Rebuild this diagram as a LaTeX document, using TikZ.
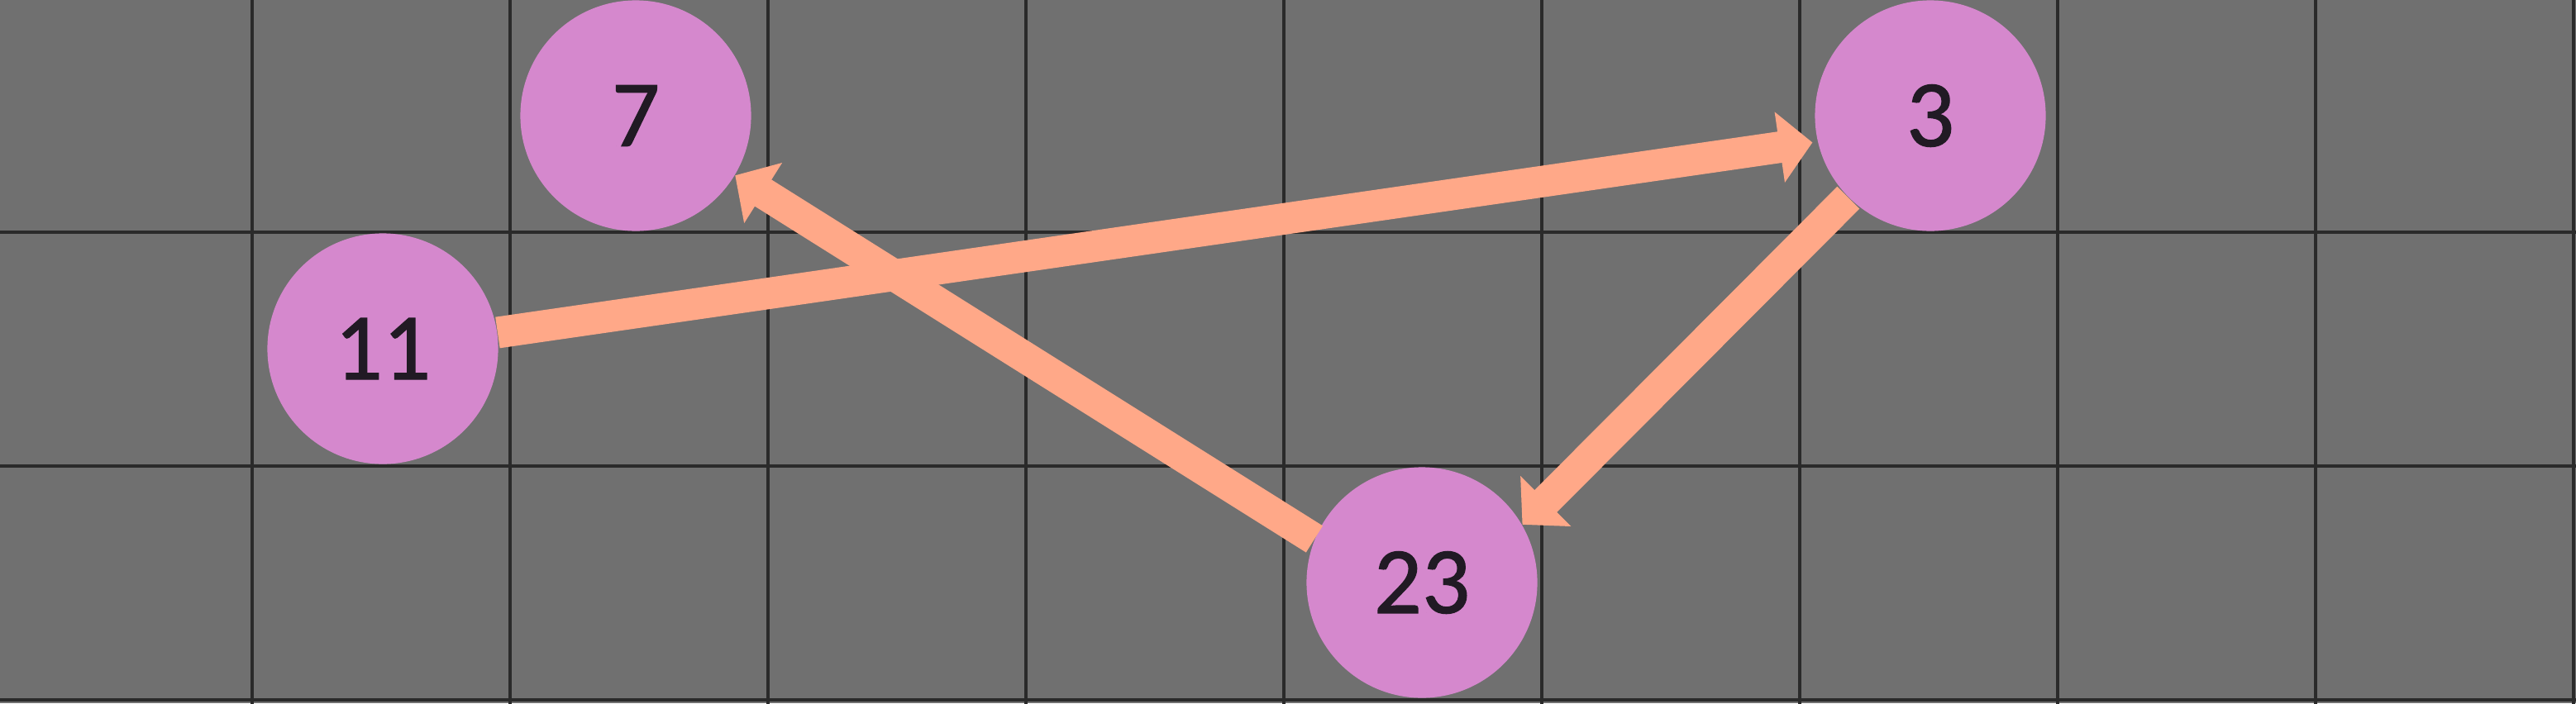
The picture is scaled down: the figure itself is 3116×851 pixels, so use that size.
\documentclass[tikz,border=0pt]{standalone}
\usepackage{fontspec}
\setmainfont{Carlito}[Numbers={Tabular,Lining}]
\newfontfamily\balldigits{Carlito}[Numbers={Tabular,Lining},FakeBold=1]
\usepackage{xcolor}
\usetikzlibrary{arrows.meta}

\definecolor{boardgray}{HTML}{707070}
\definecolor{gridink}{HTML}{2A2A2A}
\definecolor{ballpink}{HTML}{D588CD}
\definecolor{linkpeach}{HTML}{FFA888}
\definecolor{digitink}{HTML}{211A24}

\begin{document}
\begin{tikzpicture}[x=0.01cm,y=-0.01cm,
  gridline/.style={draw=gridink,line width=0.045cm},
  ball/.style={circle,fill=ballpink,minimum size=2.79cm,inner sep=0pt,
    text=digitink,font=\balldigits\fontsize{32.7}{39}\selectfont},
  link/.style={draw=linkpeach,line width=0.38cm,
    -{Triangle[length=0.4cm,width=0.84cm]}}]

% Board
\fill[boardgray] (0,0) rectangle (3116,851);
\useasboundingbox (0,0) rectangle (3116,851);

% Grid
\foreach \x in {-7,305,...,3113}
  \draw[gridline] (\x,-10) -- (\x,861);
\foreach \y in {-2,281,564,847}
  \draw[gridline] (-10,\y) -- (3126,\y);

% Nodes
\node[ball] (n7)  at (769,140)  {7};
\node[ball] (n11) at (463,422)  {11};
\node[ball] (n3)  at (2335,140) {3};
\node[ball] (n23) at (1720,705) {23};

% Links
\draw[link,shorten >=0.06cm] (n11.8) -- (n3.193);
\draw[link] (n3.225) -- (n23.30);
\draw[link] (n23.158) -- (n7.-31);

\end{tikzpicture}
\end{document}
